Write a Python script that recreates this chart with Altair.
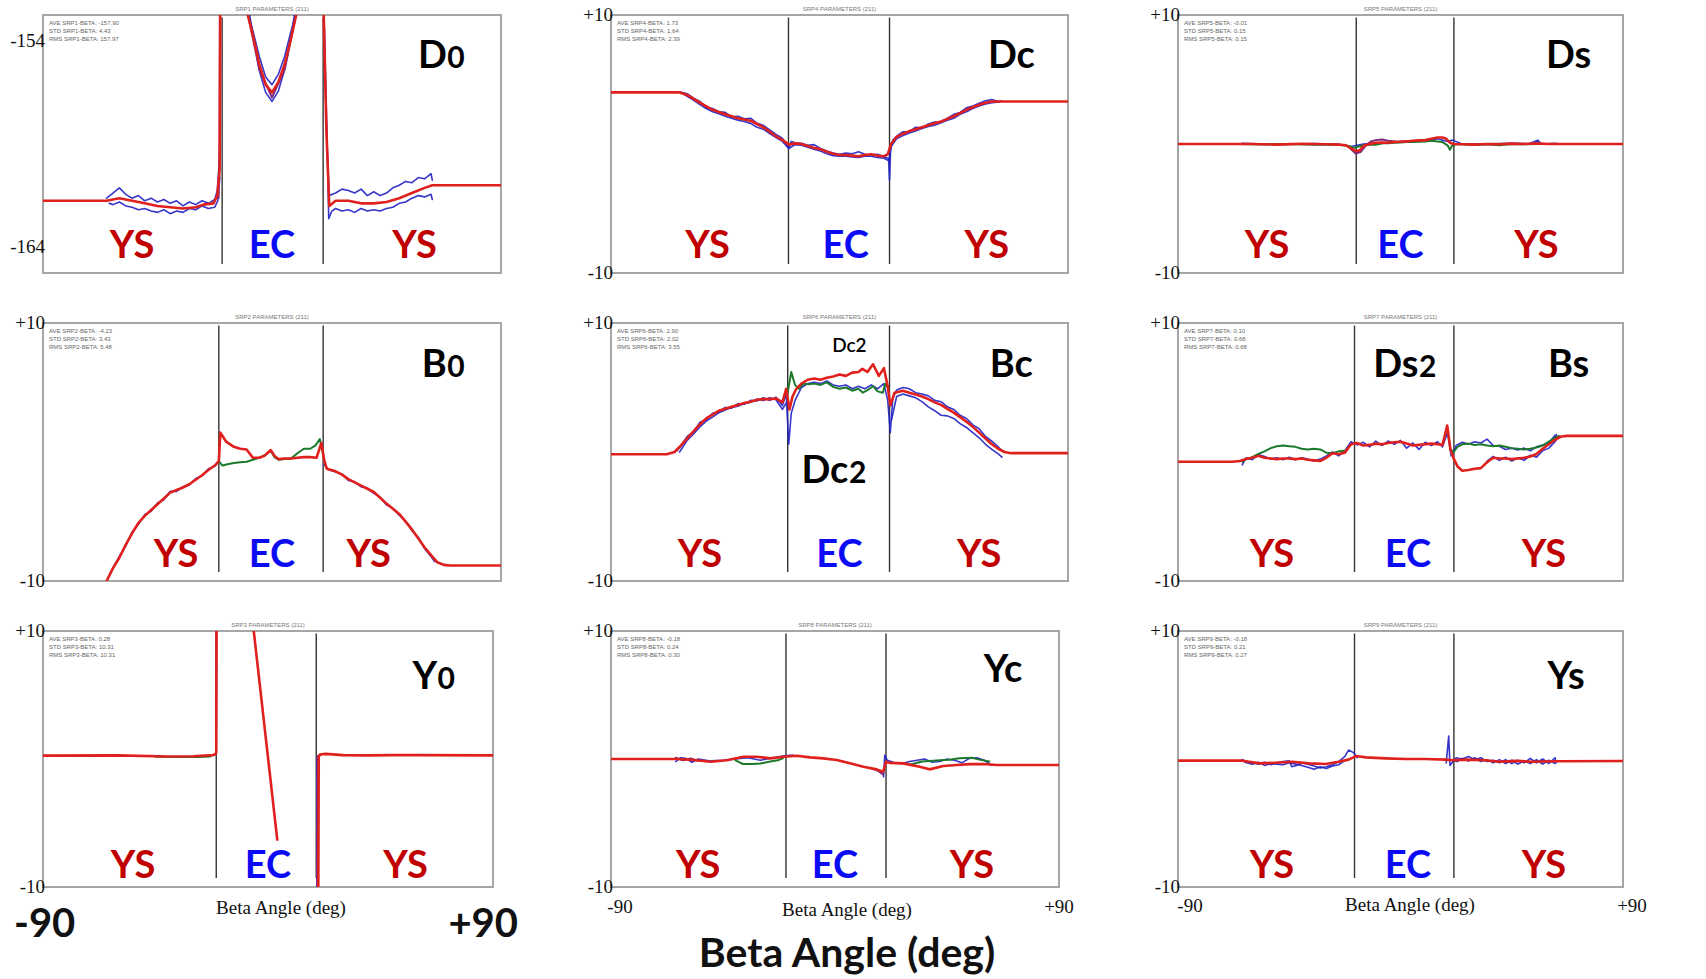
import altair as alt
import pandas as pd

# ---------------------------------------------------------------------------
# Traces: (beta [deg], value) pairs, None breaks a trace into separate pieces
# ---------------------------------------------------------------------------

# SRP1 (D0)
D0_STATS = ["AVE SRP1-BETA: -157.90", "STD SRP1-BETA: 4.43", "RMS SRP1-BETA: 157.97"]
D0_RED = [(-90, -160.2), (-65, -160.2), (-60, -160.1), (-55, -160.2), (-50, -160.3), (-45, -160.4),
          (-40, -160.45), (-35, -160.5), (-30, -160.45), (-27, -160.35), (-23, -160.3), (-21.5, -160.0),
          (-20.6, -159.0), (-20.3, -152.0), (-20.2, -140), (-11, -140), (-9.5, -153.0), (-7.5, -153.8),
          (-5, -154.9), (-2.5, -155.7), (0, -156.0), (2.5, -155.6), (5, -154.9), (7.5, -153.9),
          (9.5, -153.0), (11, -140), (20, -140), (20.2, -152.5), (21.4, -157.5), (22.5, -160.4),
          (25, -160.2), (30, -160.2), (35, -160.3), (40, -160.3), (45, -160.25), (50, -160.1),
          (55, -159.9), (60, -159.7), (63, -159.6), (90, -159.6)]
D0_BLUE1 = [(-65, -160.1), (-62.5, -159.9), (-60, -159.7), (-57.5, -159.95), (-55, -160.1), (-52.5, -160.0),
            (-50, -160.2), (-47.5, -160.1), (-45, -160.25), (-42.5, -160.15), (-40, -160.3), (-37.5, -160.2),
            (-35, -160.4), (-32.5, -160.25), (-30, -160.35), (-27.5, -160.2), (-25, -160.3), (-22.5, -160.15),
            (-21.5, -159.8), (-20.6, -158.5), (-20.4, -140), None,
            (-9.3, -153.0), (-7.3, -153.7), (-5, -154.6), (-2.5, -155.4), (0, -155.7), (2.5, -155.3),
            (5, -154.6), (7.3, -153.7), (9.3, -153.0), None,
            (20.1, -140), (20.3, -153.0), (21.5, -157.8), (22.5, -160.0), (25, -159.9), (27.5, -159.75),
            (30, -159.8), (32.5, -159.9), (35, -159.75), (37.5, -160.0), (40, -159.85), (42.5, -160.0),
            (45, -159.9), (47.5, -159.7), (50, -159.6), (52.5, -159.45), (55, -159.5), (57.5, -159.3),
            (60, -159.35), (62.5, -159.15), (63, -159.4)]
D0_BLUE2 = [(-64, -160.3), (-62.5, -160.35), (-60, -160.25), (-57.5, -160.4), (-55, -160.45), (-52.5, -160.55),
            (-50, -160.5), (-47.5, -160.6), (-45, -160.65), (-42.5, -160.55), (-40, -160.7), (-37.5, -160.6),
            (-35, -160.65), (-32.5, -160.5), (-30, -160.55), (-27.5, -160.4), (-25, -160.5), (-22.5, -160.45),
            (-21.3, -160.2), (-20.5, -159.3), None,
            (-8.8, -153.0), (-7, -154.0), (-5, -155.15), (-2.5, -156.0), (0, -156.35), (2.5, -155.95),
            (5, -155.1), (7, -154.1), (8.8, -153.0), None,
            (20.6, -153.5), (21.8, -158.5), (22.3, -160.9), (23.5, -160.6), (25, -160.5), (27.5, -160.6),
            (30, -160.55), (32.5, -160.65), (35, -160.5), (37.5, -160.6), (40, -160.55), (42.5, -160.6),
            (45, -160.5), (47.5, -160.45), (50, -160.3), (52.5, -160.25), (55, -160.1), (57.5, -160.0),
            (60, -160.05), (62.5, -159.95), (63, -160.15)]
D0_PURPLE = [(-21.0, -160.1), (-20.5, -158.0), (-20.4, -140), None,
             (-9.4, -153.0), (-5, -155.1), (0, -156.2), (5, -155.1), (9.4, -153.0)]

# SRP4 (Dc)
DC_STATS = ["AVE SRP4-BETA: 1.73", "STD SRP4-BETA: 1.64", "RMS SRP4-BETA: 2.39"]
DC_RED = [(-90, 4.0), (-63, 4.0), (-60, 3.8), (-55, 3.2), (-50, 2.65), (-45, 2.3), (-40, 2.0), (-35, 1.8),
          (-30, 1.3), (-27.5, 0.95), (-25, 0.6), (-22.5, 0.32), (-20, -0.05), (-17.5, 0.05), (-15, 0.0),
          (-12.5, -0.15), (-10, -0.3), (-7.5, -0.4), (-5, -0.6), (-2.5, -0.75), (0, -0.85), (2.5, -0.85),
          (5, -0.9), (7.5, -0.95), (10, -0.85), (12.5, -0.8), (15, -0.9), (17.5, -0.95), (19, -0.8),
          (20.3, 0.0), (22.5, 0.55), (25, 0.8), (27.5, 1.0), (30, 1.15), (32.5, 1.3), (35, 1.45),
          (37.5, 1.6), (40, 1.75), (42.5, 1.95), (45, 2.15), (47.5, 2.4), (50, 2.65), (52.5, 2.85),
          (55, 3.05), (57.5, 3.2), (60, 3.3), (64.5, 3.3), (90, 3.3)]
DC_BLUE1 = [(-63, 4.05), (-60, 3.9), (-57.5, 3.55), (-55, 3.3), (-52.5, 2.85), (-50, 2.75), (-47.5, 2.5),
            (-45, 2.45), (-42.5, 2.1), (-40, 2.15), (-37.5, 1.95), (-35, 2.0), (-32.5, 1.6), (-30, 1.45),
            (-27.5, 1.1), (-25, 0.75), (-22.5, 0.45), (-20, -0.3), (-19, 0.2), (-17.5, 0.1), (-15, 0.05),
            (-12.5, -0.1), (-10, -0.05), (-7.5, -0.35), (-5, -0.55), (-2.5, -0.7), (0, -0.8), (2.5, -0.7),
            (5, -0.75), (7.5, -0.6), (10, -0.8), (12.5, -0.85), (15, -0.8), (17.5, -1.0), (19.3, -1.1),
            (19.7, -2.8), (20.1, -0.5), (21, 0.3), (22.5, 0.6), (25, 0.95), (27.5, 0.95), (30, 1.3),
            (32.5, 1.25), (35, 1.55), (37.5, 1.7), (40, 1.7), (42.5, 2.0), (45, 2.3), (47.5, 2.45),
            (50, 2.8), (52.5, 2.95), (55, 3.15), (57.5, 3.35), (60, 3.45), (62.5, 3.3), (64, 3.35)]
DC_BLUE2 = [(-62, 3.95), (-60, 3.7), (-57.5, 3.4), (-55, 3.05), (-52.5, 2.75), (-50, 2.5), (-47.5, 2.35),
            (-45, 2.15), (-42.5, 2.0), (-40, 1.85), (-37.5, 1.75), (-35, 1.6), (-32.5, 1.3), (-30, 1.15),
            (-27.5, 0.8), (-25, 0.5), (-22.5, 0.2), (-20, -0.35), (-17.5, -0.05), (-15, -0.1), (-12.5, -0.25),
            (-10, -0.4), (-7.5, -0.55), (-5, -0.75), (-2.5, -0.9), (0, -0.95), (2.5, -0.95), (5, -1.0),
            (7.5, -1.05), (10, -0.95), (12.5, -0.95), (15, -1.05), (17.5, -1.1), (19.5, -1.3), (20.3, -0.2),
            (22.5, 0.4), (25, 0.65), (27.5, 0.85), (30, 1.0), (32.5, 1.2), (35, 1.35), (37.5, 1.45),
            (40, 1.65), (42.5, 1.85), (45, 2.0), (47.5, 2.3), (50, 2.5), (52.5, 2.75), (55, 2.95),
            (57.5, 3.1), (60, 3.2), (63, 3.25)]

# SRP5 (Ds)
DS_STATS = ["AVE SRP5-BETA: -0.01", "STD SRP5-BETA: 0.15", "RMS SRP5-BETA: 0.15"]
DS_RED = [(-90, 0.0), (-60, 0.0), (-50, -0.05), (-40, 0.02), (-30, -0.02), (-25, -0.05), (-22, -0.1),
          (-20, -0.35), (-18, -0.55), (-16.5, -0.5), (-15, -0.15), (-12.5, 0.0), (-10, 0.1), (-7.5, 0.12),
          (-5, 0.1), (-2.5, 0.15), (0, 0.18), (2.5, 0.2), (5, 0.25), (7.5, 0.28), (10, 0.3), (12.5, 0.4),
          (15, 0.5), (17, 0.5), (18.5, 0.4), (20, 0.1), (21.5, 0.0), (25, -0.02), (30, -0.05), (35, 0.0),
          (40, -0.02), (45, 0.03), (50, 0.0), (55, 0.05), (60, 0.0), (90, 0.0)]
DS_GREEN = [(-65, 0.0), (-55, -0.03), (-45, 0.0), (-35, -0.05), (-25, -0.05), (-21, -0.15), (-19, -0.3),
            (-17, -0.2), (-15, -0.1), (-12, -0.05), (-10, -0.05), (-7, 0.05), (-5, 0.05), (-2.5, 0.1),
            (0, 0.12), (2.5, 0.15), (5, 0.15), (7.5, 0.18), (10, 0.2), (12.5, 0.25), (15, 0.2), (17, 0.15),
            (19, -0.1), (20, -0.45), (21, -0.1), (23, 0.0), (30, -0.08), (35, -0.02), (40, -0.1), (45, 0.0),
            (50, -0.02), (55, 0.0), (62, 0.0)]
DS_PURPLE = [(-20, -0.4), (-18, -0.75), (-16, -0.6), (-14, -0.1), (-12, 0.2), (-10, 0.3), (-7.5, 0.35),
             (-5, 0.25), (-2, 0.2)]
DS_BLUE = [(-64, 0.05), (-55, 0.0), (-45, -0.02), (-35, 0.03), (-25, -0.02), (-20, -0.2), (-15, 0.0),
           (-10, 0.05), (-5, 0.1), (0, 0.2), (5, 0.2), (10, 0.25), (15, 0.4), (19, 0.2), (21, 0.3),
           (25, 0.0), (35, 0.02), (45, 0.05), (52, 0.02), (55.5, 0.3), (57, 0.0), (63, 0.05)]

# SRP2 (B0)
B0_STATS = ["AVE SRP2-BETA: -4.23", "STD SRP2-BETA: 3.43", "RMS SRP2-BETA: 5.48"]
B0_RED = [(-67.5, -10.8), (-65, -10.0), (-62.5, -9.0), (-60, -8.2), (-57.5, -7.2), (-55, -6.3), (-52.5, -5.5),
          (-50, -4.95), (-47.5, -4.5), (-45, -4.05), (-42.5, -3.6), (-40, -3.15), (-37.5, -2.95), (-35, -2.75),
          (-32.5, -2.5), (-30, -2.15), (-27.5, -1.8), (-25, -1.4), (-22.5, -1.05), (-20.9, -0.7), (-20.3, 1.5),
          (-18, 0.8), (-15, 0.4), (-12.5, 0.25), (-10, 0.2), (-7.5, -0.45), (-5, -0.45), (-3, -0.3),
          (-0.5, 0.15), (1, -0.3), (2.5, -0.55), (5, -0.5), (7.5, -0.5), (10, -0.45), (12.5, -0.4),
          (15, -0.4), (17.5, -0.45), (19.4, 0.7), (20.5, -0.6), (21.5, -1.3), (25, -1.5), (27.5, -1.75),
          (30, -2.1), (32.5, -2.35), (35, -2.6), (37.5, -2.85), (40, -3.1), (42.5, -3.55), (45, -4.0),
          (47.5, -4.4), (50, -4.8), (52.5, -5.4), (55, -6.0), (57.5, -6.7), (60, -7.4), (62.5, -8.0),
          (65, -8.55), (67.5, -8.75), (70, -8.8), (90, -8.8)]
B0_GREEN = [(-20.9, -0.7), (-19.5, -1.05), (-17.5, -0.95), (-15, -0.85), (-12.5, -0.8), (-10, -0.75),
            (-7.5, -0.6), (-5, -0.45), (-2.5, -0.2), (-0.5, 0.1), (1, -0.4), (2.5, -0.6), (5, -0.55),
            (7.5, -0.5), (10, -0.1), (12.5, 0.25), (15, 0.25), (17, 0.5), (18.8, 1.0), (19.5, 0.4),
            (20.5, -0.6)]
B0_BLUE = [(-64, -9.6), (-62.5, -9.0), (-60, -8.1), (-57.5, -7.3), (-55, -6.2), (-52.5, -5.6), (-50, -4.85),
           (-47.5, -4.6), (-45, -3.95), (-42.5, -3.7), (-40, -3.05), (-37.5, -3.05), (-35, -2.7),
           (-32.5, -2.55), (-30, -2.05), (-27.5, -1.85), (-25, -1.3), (-22.5, -1.1), (-21, -0.75), None,
           (20.5, -1.0), (22.5, -1.4), (25, -1.55), (27.5, -1.7), (30, -2.2), (32.5, -2.3), (35, -2.7),
           (37.5, -2.8), (40, -3.2), (42.5, -3.5), (45, -4.1), (47.5, -4.35), (50, -4.9), (52.5, -5.35),
           (55, -6.1), (57.5, -6.6), (60, -7.5), (62.5, -8.1), (64, -8.5)]

# SRP6 (Bc)
BC_STATS = ["AVE SRP6-BETA: 2.90", "STD SRP6-BETA: 2.02", "RMS SRP6-BETA: 3.55"]
BC_RED = [(-90, -0.17), (-68, -0.17), (-65, 0.0), (-62.5, 0.5), (-60, 1.05), (-57.5, 1.6), (-55, 2.15),
          (-52.5, 2.6), (-50, 2.9), (-47.5, 3.2), (-45, 3.35), (-42.5, 3.5), (-40, 3.65), (-37.5, 3.8),
          (-35, 3.9), (-32.5, 4.05), (-30, 4.1), (-27.5, 4.1), (-25, 4.15), (-22.5, 3.85), (-21, 4.9),
          (-19.7, 3.3), (-18.5, 4.3), (-17, 4.9), (-15, 5.3), (-12.5, 5.6), (-10, 5.7), (-7.5, 5.6),
          (-5, 5.75), (-2.5, 5.85), (0, 6.0), (2.5, 5.9), (5, 6.15), (7.5, 6.2), (9, 6.45), (11, 6.2),
          (13.2, 6.8), (15.5, 5.9), (17.5, 6.5), (19, 5.1), (20, 3.6), (21.7, 4.6), (25, 4.75), (27.5, 4.6),
          (30, 4.45), (32.5, 4.3), (35, 4.1), (37.5, 3.85), (40, 3.65), (42.5, 3.35), (45, 3.05), (47.5, 2.7),
          (50, 2.35), (52.5, 1.95), (55, 1.5), (57.5, 1.05), (60, 0.6), (62.5, 0.25), (65, 0.0),
          (67.5, -0.09), (90, -0.09)]
BC_GREEN = [(-20.5, 4.5), (-19, 6.2), (-17.5, 5.2), (-16, 4.9), (-14, 5.3), (-12, 5.25), (-10, 5.3),
            (-7.5, 5.2), (-5, 5.4), (-2.5, 5.05), (0, 4.9), (2.5, 5.0), (5, 4.75), (7.5, 4.9), (9.2, 4.6),
            (11, 4.8), (13.2, 5.1), (15, 4.7), (17.1, 4.6), (18, 5.3), (19, 5.0)]
BC_BLUE1 = [(-64, 0.1), (-62.5, 0.45), (-60, 1.2), (-57.5, 1.55), (-55, 2.3), (-52.5, 2.5), (-50, 3.0),
            (-47.5, 3.1), (-45, 3.45), (-42.5, 3.4), (-40, 3.75), (-37.5, 3.7), (-35, 4.0), (-32.5, 3.95),
            (-30, 4.2), (-27.5, 4.0), (-25, 4.25), (-22.5, 3.6), (-21, 4.5), (-20, 0.6), (-19, 3.0),
            (-17.5, 4.0), (-15, 5.0), (-12.5, 5.3), (-10, 5.4), (-7.5, 5.3), (-5, 5.5), (-2.5, 5.2), (0, 5.1),
            (2.5, 5.2), (5, 4.9), (7.5, 5.1), (10, 4.9), (12.5, 5.2), (15, 4.9), (17.5, 5.3), (19, 4.0),
            (20, 1.5), (21, 4.2), (22.5, 4.8), (25, 5.0), (27.5, 4.9), (30, 4.6), (32.5, 4.5), (35, 4.35),
            (37.5, 4.0), (40, 3.9), (42.5, 3.5), (45, 3.3), (47.5, 2.85), (50, 2.6), (52.5, 2.1), (55, 1.8),
            (57.5, 1.2), (60, 0.85), (62.5, 0.4), (64, 0.1)]
BC_BLUE2 = [(-63, 0.0), (-60, 0.9), (-57.5, 1.4), (-55, 1.95), (-52.5, 2.4), (-50, 2.7), (-47.5, 3.05),
            (-45, 3.25), (-42.5, 3.45), (-40, 3.55), (-37.5, 3.75), (-35, 3.85), (-32.5, 4.1), (-30, 4.0),
            (-27.5, 4.2), (-25, 4.05), (-22.5, 3.3), (-21, 3.8), None,
            (20.5, 2.5), (22.5, 4.3), (25, 4.5), (27.5, 4.35), (30, 4.2), (32.5, 3.9), (35, 3.5),
            (37.5, 3.2), (40, 2.85), (42.5, 2.8), (45, 2.6), (47.5, 2.2), (50, 1.9), (52.5, 1.5), (55, 1.1),
            (57.5, 0.6), (60, 0.2), (62.5, -0.15), (64, -0.4)]

# SRP7 (Bs)
BS_STATS = ["AVE SRP7-BETA: 0.10", "STD SRP7-BETA: 0.68", "RMS SRP7-BETA: 0.68"]
BS_RED = [(-90, -0.76), (-68, -0.76), (-65, -0.7), (-62.5, -0.55), (-60, -0.45), (-57.5, -0.3), (-55, -0.45),
          (-52.5, -0.5), (-50, -0.55), (-47.5, -0.5), (-45, -0.5), (-42.5, -0.55), (-40, -0.5), (-37.5, -0.6),
          (-35, -0.65), (-32.5, -0.7), (-30, -0.45), (-27.5, -0.1), (-25, -0.15), (-22.5, -0.05), (-20, 0.6),
          (-17.5, 0.7), (-15, 0.5), (-12.5, 0.55), (-10, 0.65), (-7.5, 0.6), (-5, 0.7), (-2.5, 0.75),
          (0, 0.8), (2.5, 0.65), (5, 0.5), (7.5, 0.55), (10, 0.6), (12.5, 0.65), (15, 0.6), (17, 0.55),
          (18.9, 2.05), (20.2, 0.2), (21.6, -0.55), (23, -1.1), (25, -1.45), (27.5, -1.4), (30, -1.3),
          (32.5, -1.25), (35, -0.8), (37.5, -0.45), (40, -0.5), (42.5, -0.5), (45, -0.55), (47.5, -0.5),
          (50, -0.45), (52.5, -0.35), (55, -0.15), (57.5, 0.25), (60, 0.6), (62.5, 0.95), (65, 1.2),
          (67.5, 1.25), (90, 1.25)]
BS_GREEN = [(-64, -0.75), (-62.5, -0.55), (-60, -0.4), (-57.5, -0.15), (-55, 0.05), (-52.5, 0.3), (-50, 0.45),
            (-47.5, 0.5), (-45, 0.45), (-42.5, 0.4), (-40, 0.25), (-37.5, 0.2), (-35, 0.25), (-32.5, 0.2),
            (-30, -0.05), (-27.5, -0.1), (-25, 0.05), (-22.5, 0.1), None,
            (20.2, 0.2), (21.5, 0.0), (23, 0.4), (25, 0.6), (27.5, 0.65), (30, 0.55), (32.5, 0.6), (35, 0.5),
            (37.5, 0.45), (40, 0.5), (42.5, 0.4), (45, 0.3), (47.5, 0.25), (50, 0.2), (52.5, 0.25),
            (55, 0.35), (57.5, 0.5), (60, 0.8), (62.5, 1.1), (64, 1.25)]
BS_BLUE1 = [(-64, -1.0), (-62.5, -0.45), (-60, -0.6), (-57.5, -0.2), (-55, -0.35), (-52.5, -0.55), (-50, -0.45),
            (-47.5, -0.6), (-45, -0.4), (-42.5, -0.6), (-40, -0.45), (-37.5, -0.55), (-35, -0.7), (-32.5, -0.55),
            (-30, -0.3), (-27.5, 0.0), (-25, -0.3), (-22.5, 0.1), (-20, 0.8), (-17.5, 0.55), (-15, 0.75),
            (-12.5, 0.4), (-10, 0.85), (-7.5, 0.5), (-5, 0.85), (-2.5, 0.6), (0, 0.9), (2.5, 0.3), (5, 0.7),
            (7.5, 0.2), (10, 0.75), (12.5, 0.5), (15, 0.8), (17, 0.4), (19, 1.5), (20.5, -0.3), (22.5, 0.5),
            (25, 0.75), (27.5, 0.6), (30, 0.8), (32.5, 0.7), (35, 1.0), (37.5, 0.5), (40, 0.45), (42.5, 0.2),
            (45, 0.3), (47.5, 0.15), (50, 0.3), (52.5, 0.1), (55, 0.4), (57.5, 0.55), (60, 0.7),
            (62.5, 1.3), (63, 0.9)]
BS_BLUE2 = [(35, -0.7), (37.5, -0.35), (40, -0.65), (42.5, -0.4), (45, -0.7), (47.5, -0.45), (50, -0.65),
            (52.5, -0.25), (55, -0.4), (57.5, 0.1), (60, 0.3), (62.5, 0.8), (63, 1.35)]

# SRP3 (Y0)
Y0_STATS = ["AVE SRP3-BETA: 0.28", "STD SRP3-BETA: 10.31", "RMS SRP3-BETA: 10.31"]
Y0_RED = [(-90, 0.26), (-60, 0.28), (-40, 0.2), (-30, 0.22), (-22, 0.3), (-21, 0.4), (-20.7, 0.5),
          (-20.5, 15), None, (-5.9, 12), (-5.7, 10), (3.7, -6.3), None,
          (20.1, -12), (20.3, 0.2), (20.8, 0.35), (23, 0.4), (30, 0.3), (40, 0.28), (50, 0.3), (60, 0.3),
          (90, 0.28)]
Y0_PURPLE = [(-22, 0.3), (-21, 0.35), (-20.8, 0.4), (-20.6, 15), None, (19.6, -12), (19.8, 0.2), (21, 0.3)]
Y0_BLUE = [(19.5, -12), (19.6, 0.15), (20.5, 0.3)]
Y0_GREEN = [(-45, 0.18), (-35, 0.15), (-28, 0.15), (-23, 0.2)]

# SRP8 (Yc)
YC_STATS = ["AVE SRP8-BETA: -0.18", "STD SRP8-BETA: 0.24", "RMS SRP8-BETA: 0.30"]
YC_RED = [(-90, 0.0), (-63.5, 0.0), (-57, -0.08), (-50, -0.21), (-43.5, -0.1), (-36.8, 0.18), (-31.5, 0.18),
          (-26, 0.05), (-20.7, 0.18), (-15.4, 0.26), (-10, 0.13), (-4.7, 0.05), (0.7, -0.08), (6, -0.34),
          (11.4, -0.6), (16.7, -0.81), (19.4, -0.99), (20.5, -0.21), (22, -0.3), (27.4, -0.34), (34, -0.6),
          (38, -0.81), (43.5, -0.55), (48.9, -0.47), (54.2, -0.4), (59.6, -0.39), (65, -0.47), (90, -0.47)]
YC_GREEN = [(-40, -0.1), (-37, -0.39), (-33, -0.4), (-30, -0.35), (-26, -0.2), (-23, -0.1), (-21, 0.05), None,
            (30, -0.45), (35, -0.2), (38, -0.15), (42, -0.1), (46, -0.05), (50, 0.05), (55, 0.1), (58, -0.05),
            (62, -0.2)]
YC_BLUE = [(-64, -0.2), (-62, 0.1), (-60, 0.05), (-57.5, -0.25), (-55, 0.0), (-50, -0.15), (-45, -0.1),
           (-40, 0.0), (-35, 0.1), (-30, -0.1), (-25, 0.1), (-22, 0.2), (-20, 0.25), (-17, 0.3), (-15, 0.2), None,
           (19.5, -1.4), (20, 0.3), (21, -0.1), (24, -0.3), (27, -0.35), (30, -0.2), (33, -0.1), (36, 0.0),
           (39, -0.25), (42, -0.2), (45, 0.0), (48, -0.1), (51, -0.3), (54, 0.05), (57, 0.1), (60, -0.1),
           (63, -0.5)]
YC_PURPLE = [(-64, 0.1), (-61, -0.1), (-58, 0.05), (-55, -0.15), None, (15, -0.75), (17.5, -0.95), (19.3, -1.2)]

# SRP9 (Ys)
YS_STATS = ["AVE SRP9-BETA: -0.18", "STD SRP9-BETA: 0.21", "RMS SRP9-BETA: 0.27"]
YS_RED = [(-90, -0.13), (-64, -0.13), (-57, -0.34), (-50.5, -0.29), (-43.8, -0.21), (-37, -0.34),
          (-30.3, -0.39), (-25, -0.21), (-21, -0.05), (-18, 0.23), (-14, 0.13), (-6, 0.05), (2, 0.0),
          (10, 0.0), (18.2, -0.05), (21, -0.1), (26.3, -0.05), (34.4, -0.1), (40, -0.21), (46.5, -0.15),
          (53, -0.21), (62.7, -0.18), (90, -0.16)]
YS_BLUE1 = [(-64, -0.05), (-62, -0.2), (-60, -0.3), (-57.5, -0.4), (-55, -0.25), (-52.5, -0.45), (-50, -0.3),
            (-47.5, -0.2), (-45, -0.15), (-44, -0.6), (-42, -0.5), (-40, -0.3), (-37.5, -0.4), (-35, -0.55),
            (-32.5, -0.7), (-30, -0.6), (-27.5, -0.45), (-25, -0.2), (-22.5, 0.2), (-21, 0.7), (-19, 0.5),
            (-17.5, 0.1), None,
            (18.5, -0.3), (19.5, 1.8), (20, -0.5), (22.5, 0.1), (25, 0.0), (27.5, 0.2), (30, -0.05),
            (32.5, 0.1), (35, -0.2), (37.5, -0.1), (40, -0.3), (42.5, -0.05), (45, -0.35), (47.5, -0.1),
            (50, -0.3), (52.5, 0.05), (55, -0.3), (57.5, 0.0), (60, -0.35), (62.5, 0.1), (63, -0.3)]
YS_BLUE2 = [(-63, -0.25), (-60, -0.4), (-57.5, -0.25), (-55, -0.5), (-52.5, -0.35), (-50, -0.4),
            (-47.5, -0.45), (-45, -0.3), (-42.5, -0.4), (-40, -0.5), (-37.5, -0.65), (-35, -0.8),
            (-32.5, -0.6), (-30, -0.75), (-27.5, -0.55), (-25, -0.45), (-22.5, -0.1), None,
            (21, -0.1), (23, -0.2), (25, 0.05), (27.5, -0.15), (30, 0.1), (32.5, -0.2), (35, -0.05),
            (37.5, -0.3), (40, -0.05), (42.5, -0.35), (45, -0.1), (47.5, -0.4), (50, -0.15), (52.5, -0.35),
            (55, -0.05), (57.5, -0.4), (60, -0.1), (62.5, -0.35)]

# ---------------------------------------------------------------------------
# Styling
# ---------------------------------------------------------------------------
RED = "#e0201c"
BLUE = "#2020c4"
GREEN = "#1c7a2c"
PURPLE = "#7d2a80"
YS_COLOR = "#c00000"
EC_COLOR = "#0a0af5"
BOLD_FONT = "Lato"
SERIF = "Liberation Serif"
SMALL_FONT = "Liberation Sans"

TRACE_STYLES = [("blue", BLUE, 1.6, 0.9), ("green", GREEN, 2.0, 1.0),
                ("purple", PURPLE, 2.0, 1.0), ("red", RED, 2.6, 1.0)]


def to_rows(name, pts):
    rows, seg = [], 0
    for i, p in enumerate(pts):
        if p is None:
            seg += 1
            continue
        rows.append({"beta": p[0], "val": p[1], "seg": f"{name}-{seg}", "i": i})
    return rows


def build_panel(p):
    w, h = p["w"], p["h"]
    lo, hi = p["ydom"]
    span = hi - lo
    xs = alt.Scale(domain=[-90, 90], nice=False, zero=False)
    ys = alt.Scale(domain=[lo, hi], nice=False, zero=False)
    hidden = p.get("hidden", [])
    label_expr = "datum.label"
    if hidden:
        label_expr = ("indexof([" + ",".join(str(v) for v in hidden) +
                      "], datum.value) >= 0 ? '' : datum.label")
    x_axis = alt.Axis(values=[-50, 0, 50], title="BETA (deg)", grid=True, gridColor="#e3e3e3",
                      domain=False, ticks=False, labelFontSize=5, labelColor="#888", labelPadding=3,
                      titleFontSize=5, titleColor="#888", titlePadding=1, titleFontWeight="normal",
                      labelFont=SMALL_FONT, titleFont=SMALL_FONT)
    y_axis = alt.Axis(values=p["yticks"], title=p["srp"] + "-BETA ()", grid=True, gridColor="#e3e3e3",
                      domain=False, ticks=False, labelFontSize=5, labelColor="#888", labelPadding=3,
                      labelExpr=label_expr, titleFontSize=5, titleColor="#888", titlePadding=4,
                      titleFontWeight="normal", labelFont=SMALL_FONT, titleFont=SMALL_FONT)

    def xy(axis_x=None, axis_y=None):
        return dict(x=alt.X("beta:Q", scale=xs, axis=axis_x), y=alt.Y("val:Q", scale=ys, axis=axis_y))

    layers = []
    # zone dividers (carry the axes and grid)
    div_df = pd.DataFrame({"beta": p["dividers"],
                           "val": [hi - 0.01 * span] * 2,
                           "val2": [lo + 0.035 * span] * 2})
    layers.append(alt.Chart(div_df).mark_rule(color="#333333", strokeWidth=1.4).encode(
        **xy(x_axis, y_axis), y2="val2:Q"))

    for key, color, width, op in TRACE_STYLES:
        for j, pts in enumerate(p["series"].get(key, [])):
            df = pd.DataFrame(to_rows(f"{key}{j}", pts))
            layers.append(alt.Chart(df).mark_line(color=color, strokeWidth=width, opacity=op, clip=True,
                                                  strokeJoin="round", strokeCap="round").encode(
                **xy(), detail="seg:N", order="i:Q"))

    # zone labels
    zx = p["zones"]
    zone_df = pd.DataFrame({"beta": zx, "val": [p["zone_y"]] * 3, "t": ["YS", "EC", "YS"],
                            "c": [YS_COLOR, EC_COLOR, YS_COLOR]})
    layers.append(alt.Chart(zone_df).mark_text(font=BOLD_FONT, fontWeight="bold", fontSize=38,
                                               align="center", baseline="alphabetic").encode(
        **xy(), text="t:N", color=alt.Color("c:N", scale=None)))

    # panel names and extra overlay names
    for t, bx, by, align, size, weight in p["names"]:
        df = pd.DataFrame({"beta": [bx], "val": [by], "t": [t]})
        layers.append(alt.Chart(df).mark_text(font=BOLD_FONT, fontWeight=weight, fontSize=size,
                                              align=align, baseline="alphabetic", color="black").encode(
            **xy(), text="t:N"))

    # large value marks along the left edge
    yl_df = pd.DataFrame({"t": [a for a, _ in p["ylabels"]], "val": [b for _, b in p["ylabels"]]})
    layers.append(alt.Chart(yl_df).mark_text(font=SERIF, fontSize=19, align="right", baseline="middle",
                                             color="#111").encode(
        x=alt.value(2), y=alt.Y("val:Q", scale=ys, axis=None), text="t:N"))

    # header and statistics block
    head_df = pd.DataFrame({"t": [p["srp"] + " PARAMETERS (211)"]})
    layers.append(alt.Chart(head_df).mark_text(font=SMALL_FONT, fontSize=6, color="#777",
                                               align="center", baseline="middle").encode(
        x=alt.value(w / 2), y=alt.value(-6), text="t:N"))
    for k, line in enumerate(p["stats"]):
        df = pd.DataFrame({"t": [line]})
        layers.append(alt.Chart(df).mark_text(font=SMALL_FONT, fontSize=6, color="#666",
                                              align="left", baseline="middle").encode(
            x=alt.value(6), y=alt.value(8 + 8 * k), text="t:N"))

    # text below the bottom row
    for t, px, py, align, font, size, weight in p.get("extras", []):
        df = pd.DataFrame({"t": [t]})
        layers.append(alt.Chart(df).mark_text(font=font, fontSize=size, fontWeight=weight, align=align,
                                              baseline="middle", color="#111").encode(
            x=alt.value(px), y=alt.value(py), text="t:N"))

    return alt.layer(*layers).properties(width=w, height=h)


PM = [("+10", 10), ("-10", -10)]
PANELS = [
    dict(srp="SRP1", stats=D0_STATS, w=458, h=258, ydom=[-163, -153], yticks=[-162, -160, -158, -156, -154],
         hidden=[-154, -162], ylabels=[("-154", -154), ("-164", -162)], dividers=[-19.6, 20.1],
         zones=[-55, 0, 56], zone_y=-162.42,
         series={"blue": [D0_BLUE1, D0_BLUE2], "purple": [D0_PURPLE], "red": [D0_RED]},
         names=[("D", 68.7, -155.05, "right", 38, "bold"), ("0", 68.9, -155.05, "left", 30, "bold")]),
    dict(srp="SRP4", stats=DC_STATS, w=457, h=258, ydom=[-10, 10], yticks=[-5, 0, 5], ylabels=PM,
         dividers=[-20.1, 19.7], zones=[-52, 2.4, 58], zone_y=-8.84,
         series={"blue": [DC_BLUE1, DC_BLUE2], "red": [DC_RED]},
         names=[("Dc", 67.7, 5.9, "center", 38, "bold")]),
    dict(srp="SRP5", stats=DS_STATS, w=445, h=258, ydom=[-10, 10], yticks=[-5, 0, 5], ylabels=PM,
         dividers=[-17.9, 21.6], zones=[-54, 0, 55], zone_y=-8.84,
         series={"blue": [DS_BLUE], "green": [DS_GREEN], "purple": [DS_PURPLE], "red": [DS_RED]},
         names=[("Ds", 68, 5.9, "center", 38, "bold")]),
    dict(srp="SRP2", stats=B0_STATS, w=458, h=258, ydom=[-10, 10], yticks=[-5, 0, 5], ylabels=PM,
         dividers=[-20.9, 20.1], zones=[-37.7, 0, 38], zone_y=-8.9,
         series={"blue": [B0_BLUE], "green": [B0_GREEN], "red": [B0_RED]},
         names=[("B", 68.7, 5.8, "right", 38, "bold"), ("0", 68.9, 5.8, "left", 30, "bold")]),
    dict(srp="SRP6", stats=BC_STATS, w=457, h=258, ydom=[-10, 10], yticks=[-5, 0, 5], ylabels=PM,
         dividers=[-20.4, 19.7], zones=[-55, 0, 55], zone_y=-8.9,
         series={"blue": [BC_BLUE1, BC_BLUE2], "green": [BC_GREEN], "red": [BC_RED]},
         names=[("Bc", 67.7, 5.8, "center", 38, "bold"),
                ("Dc", 3.5, -2.4, "right", 38, "bold"), ("2", 3.7, -2.4, "left", 30, "bold"),
                ("Dc2", 3.9, 7.75, "center", 19, 600)]),
    dict(srp="SRP7", stats=BS_STATS, w=445, h=258, ydom=[-10, 10], yticks=[-5, 0, 5], ylabels=PM,
         dividers=[-18.6, 21.6], zones=[-52, 3, 58], zone_y=-8.9,
         series={"blue": [BS_BLUE1, BS_BLUE2], "green": [BS_GREEN], "red": [BS_RED]},
         names=[("Bs", 68, 5.8, "center", 38, "bold"),
                ("Ds", 7.3, 5.8, "right", 38, "bold"), ("2", 7.5, 5.8, "left", 30, "bold")]),
    dict(srp="SRP3", stats=Y0_STATS, w=450, h=256, ydom=[-10, 10], yticks=[-5, 0, 5], ylabels=PM,
         dividers=[-20.7, 19.3], zones=[-54, 0, 55], zone_y=-9.3,
         series={"blue": [Y0_BLUE], "green": [Y0_GREEN], "purple": [Y0_PURPLE], "red": [Y0_RED]},
         names=[("Y", 67.6, 5.5, "right", 38, "bold"), ("0", 67.8, 5.5, "left", 30, "bold")],
         extras=[("Beta Angle (deg)", 238, 277, "center", SERIF, 19, "normal"),
                 ("-90", -29, 294, "left", BOLD_FONT, 40, "bold"),
                 ("+90", 475, 294, "right", BOLD_FONT, 40, "bold")]),
    dict(srp="SRP8", stats=YC_STATS, w=448, h=256, ydom=[-10, 10], yticks=[-5, 0, 5], ylabels=PM,
         dividers=[-19.7, 20.5], zones=[-55, 0, 55], zone_y=-9.3,
         series={"blue": [YC_BLUE], "green": [YC_GREEN], "purple": [YC_PURPLE], "red": [YC_RED]},
         names=[("Yc", 67.5, 6.0, "center", 38, "bold")],
         extras=[("-90", 9, 276, "center", SERIF, 19, "normal"),
                 ("+90", 448, 276, "center", SERIF, 19, "normal"),
                 ("Beta Angle (deg)", 236, 279, "center", SERIF, 19, "normal"),
                 ("Beta Angle (deg)", 236, 324, "center", BOLD_FONT, 41, "bold")]),
    dict(srp="SRP9", stats=YS_STATS, w=445, h=256, ydom=[-10, 10], yticks=[-5, 0, 5], ylabels=PM,
         dividers=[-18.6, 21.6], zones=[-52, 3, 58], zone_y=-9.3,
         series={"blue": [YS_BLUE1, YS_BLUE2], "red": [YS_RED]},
         names=[("Ys", 67, 5.5, "center", 38, "bold")],
         extras=[("-90", 12, 275, "center", SERIF, 19, "normal"),
                 ("+90", 454, 275, "center", SERIF, 19, "normal"),
                 ("Beta Angle (deg)", 232, 274, "center", SERIF, 19, "normal")]),
]

chart = (
    alt.concat(*[build_panel(p) for p in PANELS], columns=3,
               spacing={"row": 50, "column": 110}, bounds="flush")
    .properties(padding={"left": 9, "top": 5, "right": 5, "bottom": 5}, background="white")
    .configure_view(stroke="#a6a6a6", strokeWidth=2)
)

chart.save("out.html", embed_options={"renderer": "svg", "actions": False})
